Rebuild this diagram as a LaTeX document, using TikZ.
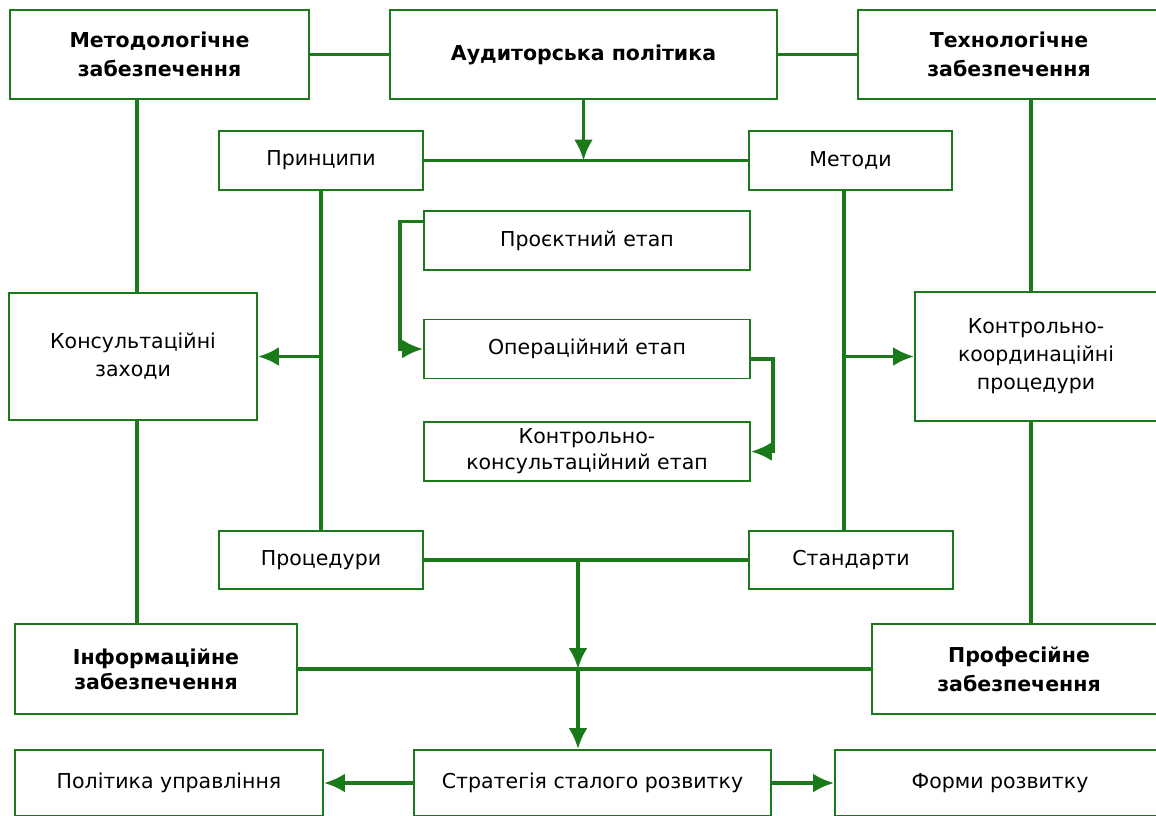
\documentclass[tikz,border=0pt]{standalone}
\usepackage{fontspec}
\setmainfont{DejaVu Sans}
\usetikzlibrary{positioning}
\usetikzlibrary{arrows.meta}
\definecolor{grn}{RGB}{26,122,26}

\begin{document}
\begin{tikzpicture}[x=1pt, y=-1pt,
    main/.style = {draw=grn, line width=1.8pt, inner sep=0pt, align=center,
                   font=\fontsize{20.5}{28}\selectfont},
    head/.style = {main, font=\fontsize{20.5}{29}\selectfont\bfseries},
    wire/.style = {draw=grn, line width=3.8pt},
    arr/.style = {wire, -{Latex[length=21pt, width=19pt]}}]
    \clip (0,0) rectangle (1156,815);

    % top row
    \node[head, minimum width=299, minimum height=89] (M) at (159.5,54.5) {Методологічне\\забезпечення};
    \node[head, minimum width=387, minimum height=89] (A) at (583.5,54.5) {Аудиторська політика};
    \node[head, minimum width=302, minimum height=89] (T) at (1009,54.5) {Технологічне\\забезпечення};

    % inner frame
    \node[main, minimum width=204, minimum height=59] (P) at (321,160.5) {Принципи};
    \node[main, minimum width=203, minimum height=59] (Me) at (850.5,160.5) {Методи};
    \node[main, minimum width=204, minimum height=58] (Pr) at (321,560) {Процедури};
    \node[main, minimum width=204, minimum height=58] (S) at (851,560) {Стандарти};

    % stages
    \node[main, minimum width=326, minimum height=59] (E1) at (587,240.5) {Проєктний етап};
    \node[main, minimum width=326, minimum height=59] (E2) at (587,349) {Операційний етап};
    \node[main, minimum width=326, minimum height=59, font=\fontsize{20.5}{26}\selectfont] (E3) at (587,451.5) {Контрольно-\\консультаційний етап};

    % side boxes
    \node[main, minimum width=248, minimum height=127] (K) at (133,356.5) {Консультаційні\\заходи};
    \node[main, minimum width=242, minimum height=129] (KK) at (1036,356.5) {Контрольно-\\координаційні\\процедури};

    % lower row
    \node[head, minimum width=282, minimum height=90, font=\fontsize{20.5}{25}\selectfont\bfseries] (I) at (156,669) {Інформаційне\\забезпечення};
    \node[head, minimum width=294, minimum height=90] (Pf) at (1019,669) {Професійне\\забезпечення};

    % bottom row
    \node[main, minimum width=308, minimum height=66] (PU) at (169,783) {Політика управління};
    \node[main, minimum width=357, minimum height=66] (SR) at (592.5,783) {Стратегія сталого розвитку};
    \node[main, minimum width=330, minimum height=66] (F) at (1000,783) {Форми розвитку};

    \coordinate (lx) at (137,0);
    \coordinate (rx) at (1031,0);
    \coordinate (mx) at (844,0);
    \coordinate (bx) at (578,0);

    \draw[wire] (M) -- (A);
    \draw[wire] (A) -- (T);
    \draw[arr] (A.south) -- (A.south |- P.east);
    \draw[wire] (P) -- (Me);

    \draw[wire] (M.south -| lx) -- (K.north -| lx);
    \draw[wire] (K.south -| lx) -- (I.north -| lx);
    \draw[wire] (T.south -| rx) -- (KK.north -| rx);
    \draw[wire] (KK.south -| rx) -- (Pf.north -| rx);

    \draw[wire] (P) -- (Pr);
    \draw[arr] (P.south |- K.east) -- (K.east);
    \draw[wire] (Me.south -| mx) -- (S.north -| mx);
    \draw[arr] (mx |- KK.west) -- (KK.west);

    \draw[arr] ([yshift=19pt]E1.west) -- ++(-23,0) |- (E2.west);
    \draw[arr] ([yshift=-10pt]E2.east) -- ++(22,0) |- (E3.east);

    \draw[wire] (Pr) -- (S);
    \draw[arr] (bx |- Pr.east) -- (bx |- I.east);
    \draw[wire] (I) -- (Pf);
    \draw[arr] (bx |- I.east) -- (bx |- SR.north);

    \draw[arr] (SR) -- (PU);
    \draw[arr] (SR) -- (F);
\end{tikzpicture}
\end{document}
